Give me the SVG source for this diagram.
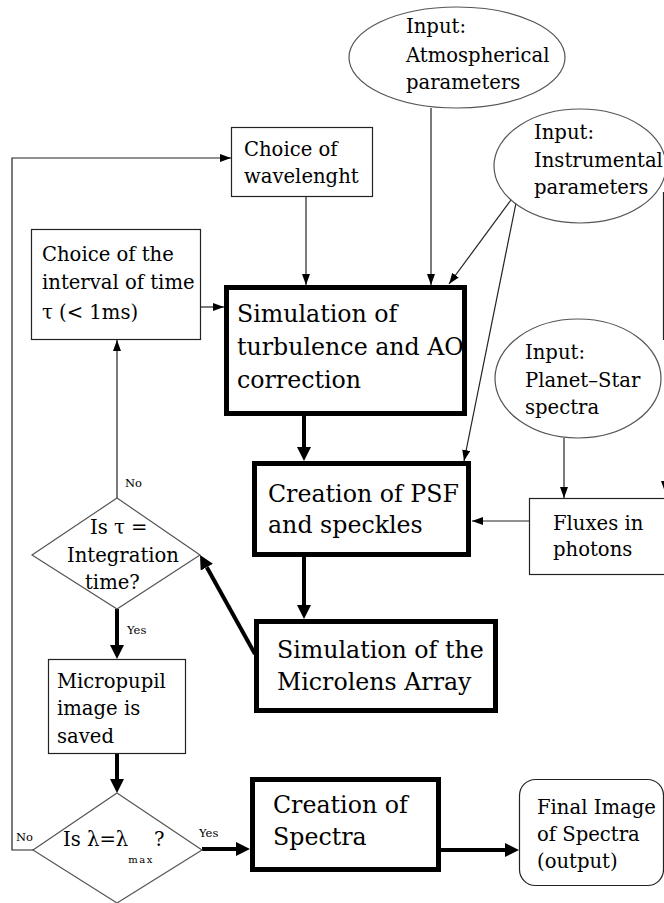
<svg xmlns="http://www.w3.org/2000/svg" width="664" height="903" viewBox="0 0 664 903" font-family="DejaVu Serif">
<defs>
<style>
text{fill:#000}
.t{font-size:19.6px}
.b{font-size:23.7px}
.s{font-size:11.5px}
.box{fill:#fff;stroke:#222;stroke-width:1.2}
.thick{fill:#fff;stroke:#000;stroke-width:5}
.ell{fill:#fff;stroke:#555;stroke-width:1.2}
.dia{fill:#fff;stroke:#555;stroke-width:1.2}
.thin{fill:none;stroke:#222;stroke-width:1.2;marker-end:url(#ah)}
.ln{fill:none;stroke:#222;stroke-width:1.2}
.fat{fill:none;stroke:#000;stroke-width:4;marker-end:url(#ahb)}
</style>
<marker id="ah" markerUnits="userSpaceOnUse" markerWidth="11" markerHeight="8" refX="11" refY="4" orient="auto"><path d="M0,0 L11,4 L0,8 z" fill="#000"/></marker>
<marker id="ahb" markerUnits="userSpaceOnUse" markerWidth="14" markerHeight="14" refX="0" refY="7" orient="auto"><path d="M0,0 L14,7 L0,14 z" fill="#000"/></marker>
</defs>

<g id="connectors" font-family="DejaVu Serif">
<path class="thin" d="M33,850 L12,850 L12,158 L231,158"/>
<path class="thin" d="M306,197 L306,285"/>
<path class="thin" d="M431,108 L431,285"/>
<path class="thin" d="M511,200 L449,284"/>
<path class="thin" d="M516,203 L464,461"/>
<path class="ln" d="M663.5,192 L663.5,340"/>
<path class="thin" d="M665,470 L665,492"/>
<path class="thin" d="M201,307 L224,307"/>
<path class="thin" d="M117,498 L117,340"/>
<path class="thin" d="M564,438 L564,498"/>
<path class="thin" d="M529,521 L472,521"/>
<path class="fat" d="M304,416 L304,447"/>
<path class="fat" d="M304,557 L304,605"/>
<path class="fat" d="M255,654 L206.8,567.2"/>
<path class="fat" d="M117,609 L117,645"/>
<path class="fat" d="M117,754 L117,779"/>
<path class="fat" d="M202,849 L236,849"/>
<path class="fat" d="M441,850 L505,850"/>
<text class="s" x="125" y="487">No</text>
<text class="s" x="127" y="634">Yes</text>
<text class="s" x="16" y="841">No</text>
<text class="s" x="199" y="837">Yes</text>
</g>

<g id="atmospherical" font-family="DejaVu Serif">
<ellipse class="ell" cx="457" cy="57.5" rx="108" ry="50.5"/>
<text class="t" x="406" y="33">Input:</text>
<text class="t" x="406" y="62">Atmospherical</text>
<text class="t" x="406" y="89">parameters</text>
</g>

<g id="instrumental" font-family="DejaVu Serif">
<ellipse class="ell" cx="580" cy="166" rx="86" ry="57"/>
<text class="t" x="534" y="139">Input:</text>
<text class="t" x="534" y="167">Instrumental</text>
<text class="t" x="534" y="194">parameters</text>
</g>

<g id="wavelength" font-family="DejaVu Serif">
<rect class="box" x="231.5" y="127.5" width="141" height="69"/>
<text class="t" x="244" y="156">Choice of</text>
<text class="t" x="244" y="183">wavelenght</text>
</g>

<g id="interval" font-family="DejaVu Serif">
<rect class="box" x="31.5" y="229.5" width="169" height="110"/>
<text class="t" x="42" y="261">Choice of the</text>
<text class="t" x="42" y="289">interval of time</text>
<text class="t" x="42" y="319">τ (&lt; 1ms)</text>
</g>

<g id="simulation" font-family="DejaVu Serif">
<rect class="thick" x="226.5" y="287.5" width="238" height="126"/>
<text class="b" x="237" y="322">Simulation of</text>
<text class="b" x="237" y="355">turbulence and AO</text>
<text class="b" x="237" y="388">correction</text>
</g>

<g id="planetstar" font-family="DejaVu Serif">
<ellipse class="ell" cx="578" cy="378.5" rx="83" ry="59.5"/>
<text class="t" x="525" y="359">Input:</text>
<text class="t" x="525" y="387">Planet–Star</text>
<text class="t" x="525" y="414">spectra</text>
</g>

<g id="psf" font-family="DejaVu Serif">
<rect class="thick" x="254.5" y="463.5" width="214" height="91"/>
<text class="b" x="268" y="502">Creation of PSF</text>
<text class="b" x="268" y="533">and speckles</text>
</g>

<g id="fluxes" font-family="DejaVu Serif">
<rect class="box" x="529.5" y="498.5" width="150" height="76"/>
<text class="t" x="553" y="530">Fluxes in</text>
<text class="t" x="553" y="556">photons</text>
</g>

<g id="integration" font-family="DejaVu Serif">
<polygon class="dia" points="117,498 200,555 117,609 32,555"/>
<text class="t" x="90" y="534">Is τ =</text>
<text class="t" x="67" y="562">Integration</text>
<text class="t" x="85" y="589">time?</text>
</g>

<g id="microlens" font-family="DejaVu Serif">
<rect class="thick" x="256.5" y="621.5" width="239" height="89"/>
<text class="b" x="277" y="658">Simulation of the</text>
<text class="b" x="277" y="690">Microlens Array</text>
</g>

<g id="micropupil" font-family="DejaVu Serif">
<rect class="box" x="48.5" y="659.5" width="137" height="94"/>
<text class="t" x="57" y="688">Micropupil</text>
<text class="t" x="57" y="715">image is</text>
<text class="t" x="57" y="743">saved</text>
</g>

<g id="lambda" font-family="DejaVu Serif">
<polygon class="dia" points="117,793 202,850 117,903 33,850"/>
<text class="t" x="63" y="846">Is λ=λ<tspan font-size="10" letter-spacing="1.5" dy="17">max</tspan><tspan dy="-17">?</tspan></text>
</g>

<g id="spectra" font-family="DejaVu Serif">
<rect class="thick" x="252.5" y="779.5" width="186" height="90"/>
<text class="b" x="273" y="813">Creation of</text>
<text class="b" x="273" y="845">Spectra</text>
</g>

<g id="final" font-family="DejaVu Serif">
<rect class="box" x="519.5" y="779.5" width="144" height="106" rx="16" ry="16"/>
<text class="t" x="537" y="814">Final Image</text>
<text class="t" x="537" y="841">of Spectra</text>
<text class="t" x="537" y="868">(output)</text>
</g>
</svg>
